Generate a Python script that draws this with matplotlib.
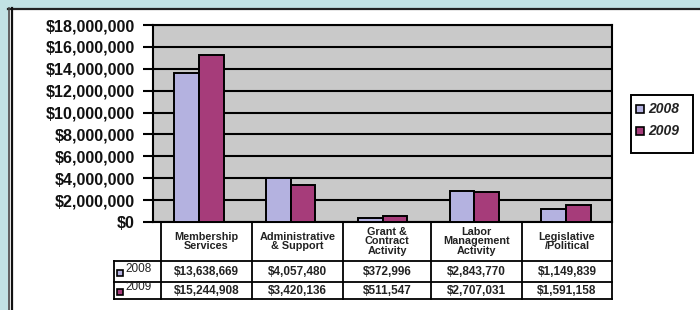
import matplotlib.pyplot as plt
import numpy as np
from matplotlib.patches import Rectangle

categories = ["Membership\nServices", "Administrative\n& Support", "Grant &\nContract\nActivity",
              "Labor\nManagement\nActivity", "Legislative\n/Political"]
years = ["2008", "2009"]
values_2008 = [13638669, 4057480, 372996, 2843770, 1149839]
values_2009 = [15244908, 3420136, 511547, 2707031, 1591158]
yticks = [0, 2000000, 4000000, 6000000, 8000000, 10000000, 12000000, 14000000, 16000000, 18000000]

colors = ["#b4b2e0", "#a63c7a"]
teal = "#c2e2e4"

W, H = 700, 310
fig = plt.figure(figsize=(7, 3.1), dpi=100)
fig.patch.set_facecolor("white")

def px(x0, y0, x1, y1):
    # pixel box (top-left origin) -> figure fraction rect
    return [x0 / W, 1 - y1 / H, (x1 - x0) / W, (y1 - y0) / H]

# overlay for frame and table (pixel coordinates)
ov = fig.add_axes([0, 0, 1, 1], zorder=0)
ov.set_xlim(0, W)
ov.set_ylim(H, 0)
ov.axis("off")
ov.add_patch(Rectangle((0, 0), W, 8, color=teal, lw=0))
ov.add_patch(Rectangle((0, 0), 8, H, color=teal, lw=0))
ov.plot([8, W], [8.5, 8.5], color="#222222", lw=1.6)
ov.plot([9, 9], [8, H], color="#444444", lw=1.2)
ov.plot([12, 12], [8, H], color="#111111", lw=1.6)

# main bar chart
ax = fig.add_axes(px(153, 25, 612, 222), zorder=1)
ax.set_facecolor("#c9c9c9")
x = np.arange(len(categories))
bw = 0.27
ax.bar(x - bw / 2, values_2008, bw, color=colors[0], edgecolor="black", lw=1.4, zorder=3)
ax.bar(x + bw / 2, values_2009, bw, color=colors[1], edgecolor="black", lw=1.4, zorder=3)
ax.set_xlim(-0.5, len(categories) - 0.5)
ax.set_ylim(0, 18000000)
ax.set_yticks(yticks)
ax.set_yticklabels(["$" + format(v, ",") for v in yticks],
                   fontsize=11.6, fontweight="bold", family="Liberation Sans", color="#111111")
ax.set_xticks([])
ax.yaxis.grid(True, color="black", lw=1.5, zorder=1)
ax.tick_params(axis="y", length=7, width=1.5, pad=6)
for s in ax.spines.values():
    s.set_color("black")
    s.set_linewidth(1.5)

# data table below the chart
cols = [161, 252, 343, 431, 522, 612]
top, hdr, mid, bot = 222, 261, 282, 299
lk = dict(color="black", lw=1.3)
for cx in cols:
    ov.plot([cx, cx], [top, bot], **lk)
ov.plot([114, 114], [hdr, bot], **lk)
ov.plot([161, 612], [top, top], **lk)
for yy in (hdr, mid, bot):
    ov.plot([114, 612], [yy, yy], **lk)

tfont = ["Liberation Sans Narrow", "Liberation Sans"]
for i, cat in enumerate(categories):
    cx = (cols[i] + cols[i + 1]) / 2
    ov.text(cx, (top + hdr) / 2, cat, ha="center", va="center", fontsize=7.8,
            fontweight="bold", family=tfont, linespacing=0.95, color="#222222")
    for vals, (y0, y1) in ((values_2008, (hdr, mid)), (values_2009, (mid, bot))):
        ov.text(cx, (y0 + y1) / 2 + 0.5, "$" + format(vals[i], ","), ha="center", va="center",
                fontsize=8.5, fontweight="bold", family=tfont, color="#222222")
for yr, c, (y0, y1) in ((years[0], colors[0], (hdr, mid)), (years[1], colors[1], (mid, bot))):
    ov.add_patch(Rectangle((117, (y0 + y1) / 2 - 2), 6, 6, facecolor=c, edgecolor="black", lw=1.2))
    ov.text(125, (y0 + y1) / 2 - 3, yr, ha="left", va="center", fontsize=8.5,
            family=tfont, color="#222222")

# legend
ov.add_patch(Rectangle((631, 95), 62, 58, facecolor="white", edgecolor="black", lw=1.4))
for k, (yr, c) in enumerate(zip(years, colors)):
    yy = 109 + k * 22
    ov.add_patch(Rectangle((636, yy - 4), 8, 8, facecolor=c, edgecolor="black", lw=1.2))
    ov.text(648, yy, yr, ha="left", va="center", fontsize=10, fontweight="bold",
            style="italic", family="Liberation Sans", color="#222222")

fig.savefig("out.png", dpi=100)
